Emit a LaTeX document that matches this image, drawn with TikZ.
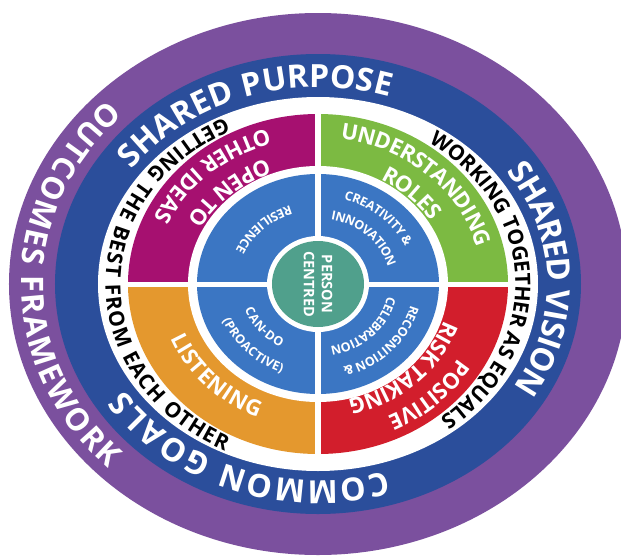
\documentclass[tikz,border=0pt]{standalone}
\usepackage{fontspec}
\setmainfont{Open Sans}
\usetikzlibrary{decorations.text}
\definecolor{cPurple}{HTML}{7B509E}
\definecolor{cNavy}{HTML}{2B4E9B}
\definecolor{cMagenta}{HTML}{A61070}
\definecolor{cGreen}{HTML}{7CBA42}
\definecolor{cOrange}{HTML}{E4982E}
\definecolor{cRed}{HTML}{D21E2C}
\definecolor{cBlue}{HTML}{3B76C3}
\definecolor{cTeal}{HTML}{50A08C}
\newcommand\fBlue{\fontsize{32}{32}\selectfont\bfseries\color{white}}
\newcommand\fPurple{\fontsize{31}{31}\selectfont\bfseries\color{white}}
\newcommand\fWhite{\fontsize{21}{21}\selectfont\bfseries\color{black}}
\newcommand\fQuad{\fontsize{22}{22}\selectfont\bfseries\color{white}}
\newcommand\fInner{\fontsize{12.5}{12.5}\selectfont\bfseries\color{white}}
% #1 text, #2 start angle, #3 end angle, #4 x radius, #5 y radius, #6 raise
\newcommand\fittext[6]{\path[decorate,decoration={text along path,text={#1},text align={fit to path},raise=#6}] (#2:#4 and #5) arc[start angle=#2,end angle=#3,x radius=#4,y radius=#5];}
\newcommand\ctrtext[6]{\path[decorate,decoration={text along path,text={#1},text align={center},raise=#6}] (#2:#4 and #5) arc[start angle=#2,end angle=#3,x radius=#4,y radius=#5];}
\tikzset{divider/.style={white,line width=5pt}}
\begin{document}
\begin{tikzpicture}[x=1pt,y=1pt]
\useasboundingbox[fill=white] (-318,-274) rectangle (303,284);
\begin{scope}
\clip (-318,-274) rectangle (303,284);
% rings
\fill[cPurple] (0,0) ellipse[x radius=309,y radius=271];
\fill[cNavy] (0,0) ellipse[x radius=263,y radius=230];
\fill[white] (0,0) ellipse[x radius=220,y radius=187];
% quadrants
\fill[cGreen] (0,0) -- (0:190 and 170) arc[start angle=0,end angle=90,x radius=190,y radius=170] -- cycle;
\fill[cMagenta] (0,0) -- (90:190 and 170) arc[start angle=90,end angle=180,x radius=190,y radius=170] -- cycle;
\fill[cOrange] (0,0) -- (180:190 and 170) arc[start angle=180,end angle=270,x radius=190,y radius=170] -- cycle;
\fill[cRed] (0,0) -- (270:190 and 170) arc[start angle=270,end angle=360,x radius=190,y radius=170] -- cycle;
\fill[white] (0,0) ellipse[x radius=130,y radius=118];
\fill[cBlue] (0,0) ellipse[x radius=121,y radius=110];
\draw[divider] (-192,0) -- (192,0);
\draw[divider] (0,-172) -- (0,172);
\fill[white] (0,0) ellipse[x radius=51,y radius=48];
\fill[cTeal] (0,0) ellipse[x radius=46,y radius=43];
\end{scope}
\node[rotate=-90,align=center,text=white,font=\fontsize{14.5}{18}\selectfont\bfseries] (pc) at (0,0) {PERSON\\CENTRED};
% purple ring text
\fittext{|\fPurple|OUTCOMES FRAMEWORK}{135}{225}{286}{250}{-11pt}
% blue ring text
\fittext{|\fBlue|SHARED PURPOSE}{144}{72}{241}{208}{-11.4pt}
\fittext{|\fBlue|SHARED VISION}{35}{-30}{241}{208}{-11.4pt}
\fittext{|\fBlue|COMMON GOALS}{-73}{-147}{241}{208}{-11.4pt}
% white ring text
\fittext{|\fWhite|GETTING THE BEST FROM EACH OTHER}{116}{244}{205}{178}{-7.5pt}
\fittext{|\fWhite|WORKING TOGETHER AS EQUALS}{56}{-52}{205}{178}{-7.5pt}
% quadrant text
\ctrtext{|\fQuad|UNDERSTANDING}{107}{-13}{171.7}{154}{-7.8pt}
\ctrtext{|\fQuad|ROLES}{105}{-15}{140.5}{126}{-7.8pt}
\ctrtext{|\fQuad|POSITIVE}{14}{-106}{171.7}{154}{-7.8pt}
\ctrtext{|\fQuad|RISK TAKING}{14}{-106}{140.5}{126}{-7.8pt}
\ctrtext{|\fQuad|OPEN TO}{73}{193}{140.5}{126}{-7.8pt}
\ctrtext{|\fQuad|OTHER IDEAS}{73}{193}{171.7}{154}{-7.8pt}
\ctrtext{|\fQuad|LISTENING}{163}{283}{151.6}{136}{-7.8pt}
% inner disc text
\ctrtext{|\fInner|RESILIENCE}{64}{204}{85.8}{78}{-4.5pt}
\ctrtext{|\fInner|CREATIVITY {\&}}{118}{-22}{101}{92}{-4.5pt}
\ctrtext{|\fInner|INNOVATION}{116}{-24}{77}{70}{-4.5pt}
\ctrtext{|\fInner|RECOGNITION {\&}}{27}{-113}{100}{91}{-4.5pt}
\ctrtext{|\fInner|CELEBRATION}{26}{-114}{75}{68}{-4.5pt}
\ctrtext{|\fInner|CAN-DO}{149}{289}{74}{67}{-4.5pt}
\ctrtext{|\fInner|(PROACTIVE)}{154}{294}{99}{90}{-4.5pt}
\end{tikzpicture}
\end{document}
